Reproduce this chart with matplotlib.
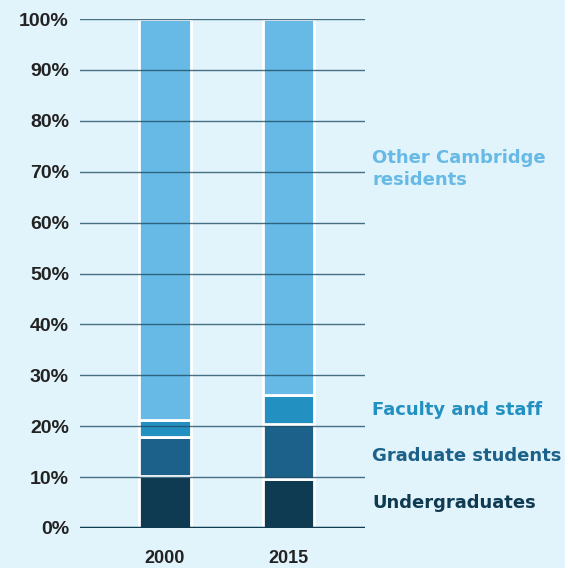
import matplotlib
matplotlib.use("Agg")
import matplotlib.pyplot as plt
import numpy as np

years = ["2000", "2015"]
categories = ["Undergraduates", "Graduate students", "Faculty and staff", "Other Cambridge residents"]
undergrad = [10.3, 9.7]
graduate = [7.6, 10.7]
faculty = [3.4, 5.7]
other = [78.7, 73.9]
yticks = [0, 10, 20, 30, 40, 50, 60, 70, 80, 90, 100]
ytick_labels = [f"{v}%" for v in yticks]

colors = ["#0e3a52", "#1c6189", "#2390c2", "#66bae5"]
bg = "#e1f3fb"

fig = plt.figure(figsize=(5.65, 5.68), dpi=100, facecolor=bg)
ax = fig.add_axes([80/565, 1-528/568, 285/565, 509/568], facecolor=bg)

x = np.arange(len(years))
bottom = np.zeros(len(years))
for vals, c in zip([undergrad, graduate, faculty, other], colors):
    ax.bar(x, vals, bottom=bottom, width=0.42, color=c, edgecolor="white", linewidth=2.0, zorder=2)
    bottom += np.array(vals)

ax.set_xlim(-0.688, 1.619)
ax.set_ylim(0, 100)

for v in yticks[1:]:
    ax.axhline(v, color="#1f4e66", lw=1.0, alpha=0.8, zorder=3)
ax.axhline(0, color="#0e3a52", lw=2.5, zorder=4)

tickfont = ["Liberation Sans", "DejaVu Sans"]
ax.set_yticks(yticks)
ax.set_yticklabels(ytick_labels, fontfamily=tickfont, fontweight="bold", fontsize=14, color="#222222")
ax.set_xticks(x)
ax.set_xticklabels(years, fontfamily=tickfont, fontweight="bold", fontsize=13, color="#222222")
ax.tick_params(length=0)
ax.tick_params(axis="y", pad=8)
ax.tick_params(axis="x", pad=16)
for s in ax.spines.values():
    s.set_visible(False)

lab_x = 372/565
def lab(y_px, text, c):
    fig.text(lab_x, 1 - y_px/568, text, color=c, fontsize=13, fontweight="bold",
             ha="left", va="center", linespacing=1.3)

lab(169, "Other Cambridge\nresidents", colors[3])
lab(410, "Faculty and staff", colors[2])
lab(456, "Graduate students", colors[1])
lab(503, "Undergraduates", colors[0])

fig.savefig("out.png", dpi=100, facecolor=bg)
